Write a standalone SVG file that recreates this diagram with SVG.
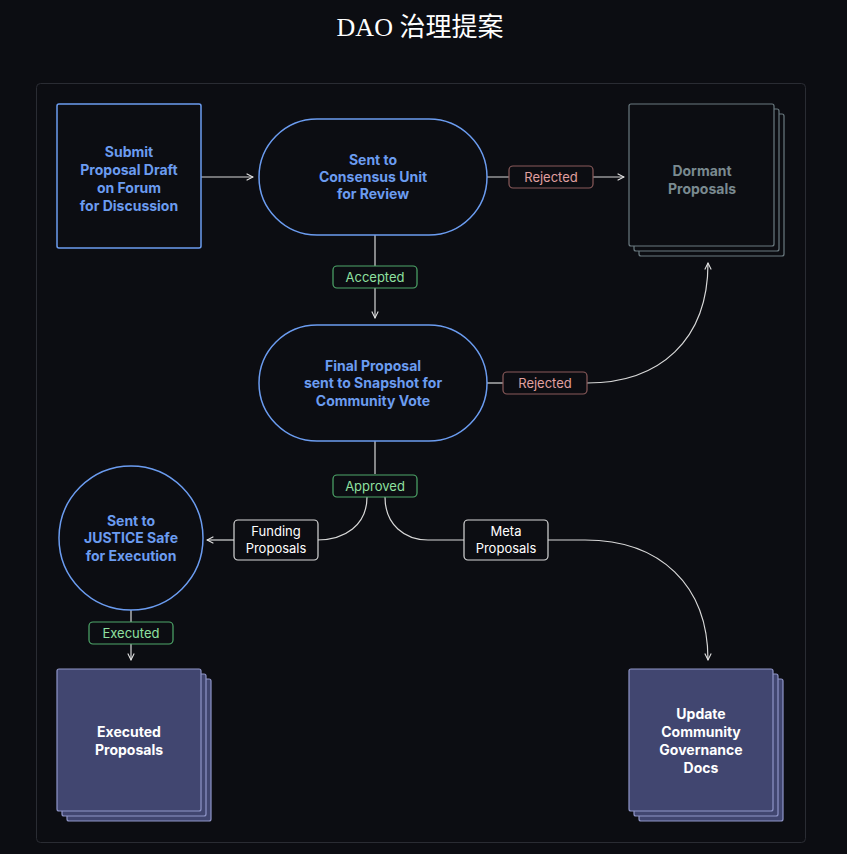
<svg xmlns="http://www.w3.org/2000/svg" width="847" height="854" viewBox="0 0 847 854">
<defs>
<marker id="ah" viewBox="0 0 10 10" refX="9" refY="5" markerWidth="8" markerHeight="8" orient="auto" markerUnits="userSpaceOnUse"><path d="M1,1 L9,5 L1,9" fill="none" stroke="#e6e6e6" stroke-width="1.3"/></marker>
<style>
.bt{font-family:Inter,"Liberation Sans",sans-serif;font-weight:700;font-size:14px;text-anchor:middle}
.lt{font-family:Inter,"Liberation Sans",sans-serif;font-size:13px;text-anchor:middle}
.blue{fill:#0c0d12;stroke:#6b9cf0;stroke-width:1.5}
.c{fill:none;stroke:#d8d8d8;stroke-width:1.2}
.lb{fill:#0c0d12;stroke-width:1.2}
</style>
</defs>
<rect width="847" height="854" fill="#0c0d12"/>
<text x="420" y="36" font-family="'Liberation Serif','Noto Sans CJK SC',serif" font-size="26" fill="#ffffff" text-anchor="middle">DAO 治理提案</text>
<rect x="36.5" y="83.5" width="769" height="759" rx="4" fill="none" stroke="#2a2c33"/>
<g id="connectors">
<path class="c" d="M201,177 L253,177" marker-end="url(#ah)"/>
<path class="c" d="M487,177 L624,177" marker-end="url(#ah)"/>
<path class="c" d="M375,235 L375,318" marker-end="url(#ah)"/>
<path class="c" d="M487,383 L503,383"/>
<path class="c" d="M587,383 C660,383 708,340 708,263" marker-end="url(#ah)"/>
<path class="c" d="M375,441 L375,474"/>
<path class="c" d="M367,497 C367,525 345,540 317,540"/>
<path class="c" d="M234,540 L207,540" marker-end="url(#ah)"/>
<path class="c" d="M385,497 C385,525 405,540 428,540 L464,540"/>
<path class="c" d="M548,540 L585,540 C660,540 708,585 708,660" marker-end="url(#ah)"/>
<path class="c" d="M131,610 L131,660" marker-end="url(#ah)"/>
<rect class="lb" x="509" y="166" width="84" height="22" rx="4" stroke="#8a5a5a"/><text class="lt" x="551" y="181.5" fill="#e0a0a0">Rejected</text>
<rect class="lb" x="333" y="266" width="84" height="22" rx="4" stroke="#4fa86a"/><text class="lt" x="375" y="281.5" fill="#8fe0a0">Accepted</text>
<rect class="lb" x="503" y="372" width="84" height="22" rx="4" stroke="#8a5a5a"/><text class="lt" x="545" y="387.5" fill="#e0a0a0">Rejected</text>
<rect class="lb" x="333" y="475" width="84" height="22" rx="4" stroke="#4fa86a"/><text class="lt" x="375" y="490.5" fill="#8fe0a0">Approved</text>
<rect class="lb" x="234" y="520" width="84" height="40" rx="4" stroke="#d8d8d8"/><text class="lt" x="276" y="535.5" fill="#ffffff">Funding</text><text class="lt" x="276" y="553" fill="#ffffff">Proposals</text>
<rect class="lb" x="464" y="520" width="84" height="40" rx="4" stroke="#d8d8d8"/><text class="lt" x="506" y="535.5" fill="#ffffff">Meta</text><text class="lt" x="506" y="553" fill="#ffffff">Proposals</text>
<rect class="lb" x="89" y="622" width="84" height="22" rx="4" stroke="#4fa86a"/><text class="lt" x="131" y="637.5" fill="#8fe0a0">Executed</text>
</g>
<g id="submit"><rect class="blue" x="57" y="104" width="144" height="144" rx="2"/>
<text class="bt" fill="#6b9cf0"><tspan x="129" y="157">Submit</tspan><tspan x="129" y="175">Proposal Draft</tspan><tspan x="129" y="193">on Forum</tspan><tspan x="129" y="211">for Discussion</tspan></text></g>
<g id="consensus"><rect class="blue" x="259" y="119" width="228" height="116" rx="58"/>
<text class="bt" fill="#6b9cf0"><tspan x="373" y="165">Sent to</tspan><tspan x="373" y="182">Consensus Unit</tspan><tspan x="373" y="199">for Review</tspan></text></g>
<g id="dormant">
<rect x="639" y="114" width="145" height="142" rx="2" fill="#0c0d12" stroke="#6b7a80" stroke-width="1.2"/>
<rect x="634" y="109" width="145" height="142" rx="2" fill="#0c0d12" stroke="#6b7a80" stroke-width="1.2"/>
<rect x="629" y="104" width="145" height="142" rx="2" fill="#0c0d12" stroke="#6b7a80" stroke-width="1.2"/>
<text class="bt" fill="#7a8a90"><tspan x="702" y="176">Dormant</tspan><tspan x="702" y="194">Proposals</tspan></text></g>
<g id="final"><rect class="blue" x="259" y="325" width="228" height="116" rx="58"/>
<text class="bt" fill="#6b9cf0"><tspan x="373" y="371">Final Proposal</tspan><tspan x="373" y="388">sent to Snapshot for</tspan><tspan x="373" y="406">Community Vote</tspan></text></g>
<g id="justice"><circle class="blue" cx="131" cy="538" r="72"/>
<text class="bt" fill="#6b9cf0"><tspan x="131" y="526">Sent to</tspan><tspan x="131" y="543">JUSTICE Safe</tspan><tspan x="131" y="561">for Execution</tspan></text></g>
<g id="executed">
<rect x="67" y="679" width="144" height="142" rx="2" fill="#414670" stroke="#8f95c8" stroke-width="1.2"/>
<rect x="62" y="674" width="144" height="142" rx="2" fill="#414670" stroke="#8f95c8" stroke-width="1.2"/>
<rect x="57" y="669" width="144" height="142" rx="2" fill="#414670" stroke="#8f95c8" stroke-width="1.2"/>
<text class="bt" fill="#ffffff"><tspan x="129" y="737">Executed</tspan><tspan x="129" y="755">Proposals</tspan></text></g>
<g id="update">
<rect x="639" y="679" width="144" height="142" rx="2" fill="#414670" stroke="#8f95c8" stroke-width="1.2"/>
<rect x="634" y="674" width="144" height="142" rx="2" fill="#414670" stroke="#8f95c8" stroke-width="1.2"/>
<rect x="629" y="669" width="144" height="142" rx="2" fill="#414670" stroke="#8f95c8" stroke-width="1.2"/>
<text class="bt" fill="#ffffff"><tspan x="701" y="719">Update</tspan><tspan x="701" y="737">Community</tspan><tspan x="701" y="755">Governance</tspan><tspan x="701" y="773">Docs</tspan></text></g>
</svg>
